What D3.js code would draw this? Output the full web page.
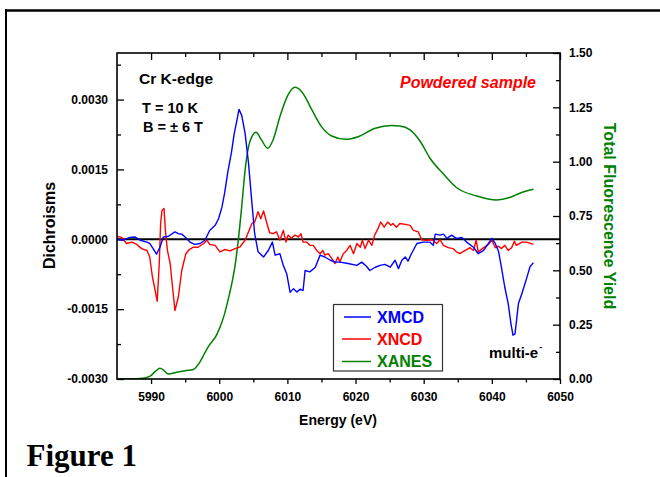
<!DOCTYPE html>
<html><head><meta charset="utf-8">
<script src="https://cdn.jsdelivr.net/npm/d3@7"></script>
<style>
html,body{margin:0;padding:0;background:#fff;}
svg{display:block;}
text{font-family:"Liberation Sans",Arial,sans-serif;font-weight:bold;}
</style></head>
<body>
<svg id="chart" width="660" height="477"></svg>
<script>
// ---- Data ----
const xTicks = [5990, 6000, 6010, 6020, 6030, 6040, 6050];
const xMinorTicks = [5995, 6005, 6015, 6025, 6035, 6045];
const yLeftTicks = [-0.003, -0.0015, 0, 0.0015, 0.003];
const yLeftMinorTicks = [-0.00225, -0.00075, 0.00075, 0.00225, 0.00375];
const yRightTicks = [0, 0.25, 0.5, 0.75, 1.0, 1.25, 1.5];
const yRightMinorTicks = [0.125, 0.375, 0.625, 0.875, 1.125, 1.375];
const seriesNames = ["XMCD", "XNCD", "XANES"];
const seriesColors = ["#0000ff", "#ff0000", "#008000"];

const xmcdE = [5985.0,5985.9,5986.9,5987.6,5988.4,5989.4,5989.8,5990.3,5990.8,5991.3,5991.8,5992.5,5993.5,5994.0,5994.5,5995.0,5995.7,5996.4,5997.2,5997.9,5998.6,5999.4,5999.9,6000.4,6000.8,6001.3,6001.8,6002.2,6002.6,6002.9,6003.3,6003.8,6004.3,6004.8,6005.2,6005.7,6006.5,6007.2,6007.8,6008.2,6008.9,6009.4,6009.9,6010.4,6010.9,6011.4,6011.9,6012.3,6012.6,6013.3,6014.1,6014.8,6015.5,6016.3,6017.0,6017.7,6018.9,6020.2,6020.9,6021.6,6022.1,6022.9,6023.6,6024.3,6025.1,6025.8,6026.3,6026.8,6027.3,6027.7,6028.2,6029.0,6029.9,6030.9,6031.4,6031.7,6032.4,6032.9,6033.4,6034.1,6034.8,6035.6,6036.3,6037.3,6038.0,6038.8,6039.5,6040.0,6040.5,6041.0,6041.4,6041.9,6042.4,6042.8,6043.1,6043.4,6043.9,6044.4,6045.1,6045.6,6046.1];
const xmcdD = [0,-0.00002,0.00004,0.00005,-0.00002,-0.00006,-0.00009,-0.0002,-0.00032,-0.00017,0.00005,0.00006,0.00016,0.00012,0.00011,0.00005,-0.00006,-0.00011,-0.00009,-0.00002,0.00019,0.0003,0.00044,0.00069,0.001,0.00148,0.00187,0.00227,0.00256,0.00279,0.00266,0.00227,0.00163,0.00077,0.00012,-0.00027,-0.00038,-0.00024,-0.00006,-0.00034,-0.00031,-0.00056,-0.00074,-0.00114,-0.00106,-0.00113,-0.00107,-0.0011,-0.00067,-0.0007,-0.0006,-0.00034,-0.00038,-0.00045,-0.00049,-0.00049,-0.00052,-0.00056,-0.00049,-0.00058,-0.00067,-0.0006,-0.00056,-0.00054,-0.0006,-0.00045,-0.00063,-0.00045,-0.00038,-0.00047,-0.00031,-0.00009,-0.00006,-0.00006,-0.00013,0.00011,0.00009,0.00011,0.00002,0.00009,0.00002,0.00004,-0.00006,-0.00017,-0.00031,-0.00024,-0.00009,0.00002,-0.00009,-0.00027,-0.0006,-0.00103,-0.00138,-0.00181,-0.00206,-0.00203,-0.00138,-0.00117,-0.00084,-0.00059,-0.0005];

const xncdE = [5985.0,5985.7,5986.4,5987.2,5987.9,5988.6,5989.4,5989.8,5990.2,5990.6,5990.9,5991.2,5991.4,5991.6,5991.9,5992.1,5992.4,5992.8,5993.2,5993.5,5994.0,5994.5,5995.1,5995.6,5996.2,5996.9,5997.7,5998.2,5998.6,5999.4,6000.1,6000.8,6001.6,6002.3,6003.0,6003.8,6004.3,6004.8,6005.2,6005.7,6006.1,6006.5,6007.0,6007.4,6007.9,6008.4,6008.9,6009.4,6009.8,6010.1,6010.6,6011.1,6011.6,6012.0,6012.3,6012.8,6013.3,6013.8,6014.3,6014.8,6015.2,6015.5,6016.0,6016.5,6017.0,6017.4,6017.7,6018.2,6018.7,6019.2,6019.7,6020.2,6020.7,6021.0,6021.4,6021.9,6022.4,6022.8,6023.3,6023.7,6024.2,6024.7,6025.2,6025.5,6026.0,6026.5,6027.3,6028.0,6028.5,6029.2,6029.7,6030.4,6031.2,6031.9,6032.4,6032.9,6033.6,6034.3,6034.8,6035.3,6036.1,6036.8,6037.3,6037.7,6038.0,6038.8,6039.5,6040.0,6040.5,6041.0,6041.4,6041.9,6042.4,6042.9,6043.3,6043.6,6044.4,6045.1,6046.1];
const xncdD = [0.00006,0.00004,-0.00009,-0.00006,-0.00011,-0.0002,-0.00024,-0.00038,-0.00081,-0.0011,-0.00133,-0.00052,0.00034,0.00062,0.00066,0.00019,-0.00024,-0.00052,-0.0011,-0.00153,-0.00124,-0.00067,-0.00031,-0.00022,-0.00017,-0.00017,-0.00009,-0.00002,-0.00011,-0.00013,-0.00027,-0.00022,-0.00025,-0.0002,-0.00017,-0.00002,0.00016,0.00034,0.00037,0.00059,0.00044,0.00061,0.00034,0.00014,0.00012,0.00016,-0.00002,0.00019,-0.00006,0.00009,0.00002,0.00009,0.00005,0.00012,-0.00006,-0.00006,-0.00013,-0.00013,-0.00024,-0.00031,-0.00024,-0.00034,-0.00031,-0.00041,-0.00052,-0.00038,-0.00049,-0.00031,-0.00024,-0.00013,-0.00031,-0.00009,-0.00017,-0.00002,-0.0002,-0.00002,-0.00013,0.00009,0.00023,0.00037,0.00026,0.00037,0.0003,0.00034,0.00026,0.00034,0.00032,0.0003,0.00019,0.00016,-0.00001,-0.00002,-0.00001,-0.00009,-0.00001,-0.00013,-0.00018,-0.0002,-0.00027,-0.00031,-0.00024,-0.00018,-0.00024,-0.00002,-0.00027,-0.00018,-0.00011,-0.00002,-0.00018,-0.00015,-0.0002,-0.00013,-0.00024,-0.00018,-0.00004,-0.00013,-0.00006,-0.00006,-0.00011];

const xanesE = [5985.0,5988.4,5989.8,5990.7,5991.3,5991.9,5992.5,5993.8,5995.0,5996.2,5997.2,5997.8,5998.4,5999.6,6000.4,6000.8,6001.3,6001.8,6002.3,6002.8,6003.3,6003.8,6004.3,6004.8,6005.4,6006.2,6007.1,6007.9,6008.9,6010.1,6011.1,6012.1,6013.6,6015.0,6016.5,6018.5,6020.4,6022.9,6025.3,6026.5,6028.0,6029.5,6030.9,6032.9,6034.8,6037.8,6040.7,6042.7,6044.1,6046.1];
const xanesY = [0.000,0.002,0.012,0.037,0.049,0.039,0.023,0.031,0.038,0.044,0.080,0.115,0.149,0.202,0.262,0.302,0.364,0.433,0.517,0.640,0.793,0.962,1.069,1.115,1.135,1.100,1.062,1.100,1.207,1.307,1.342,1.322,1.238,1.161,1.118,1.103,1.115,1.154,1.166,1.164,1.146,1.093,1.017,0.943,0.881,0.842,0.824,0.836,0.855,0.873];

// ---- Chart ----
const svg = d3.select("#chart");
const W = 660, H = 477;
const L = 117, R = 560, T = 53, B = 379;

const x = d3.scaleLinear().domain([5985, 6050]).range([L, R]);
const yL = d3.scaleLinear().domain([-0.003, 0.004]).range([B, T]);
const yR = d3.scaleLinear().domain([0, 1.5]).range([B, T]);

// outer page frame (partial)
svg.append("line").attr("x1", 6).attr("x2", W).attr("y1", 10.5).attr("y2", 10.5)
  .attr("stroke", "#000").attr("stroke-width", 2.5);
svg.append("line").attr("x1", 6).attr("x2", 6).attr("y1", 9).attr("y2", H)
  .attr("stroke", "#000").attr("stroke-width", 2);

const fmtL = v => d3.format(".4f")(v).replace("\u2212", "-");
const fmtR = v => d3.format(".2f")(v);

function styleAxis(g) {
  g.select(".domain").remove();
  g.selectAll(".tick line").attr("stroke", "#000").attr("stroke-width", 1.3);
  g.selectAll(".tick text").attr("fill", "#000").style("font-size", "12px")
    .style("font-family", '"Liberation Sans", Arial, sans-serif').style("font-weight", "bold");
}

// left axis
svg.append("g").attr("transform", `translate(${L},0)`)
  .call(d3.axisLeft(yL).tickValues(yLeftTicks).tickSize(-7).tickPadding(9).tickFormat(fmtL)).call(styleAxis);
svg.append("g").attr("transform", `translate(${L},0)`)
  .call(d3.axisLeft(yL).tickValues(yLeftMinorTicks).tickSize(-4).tickFormat("")).call(styleAxis);
// right axis
svg.append("g").attr("transform", `translate(${R},0)`)
  .call(d3.axisRight(yR).tickValues(yRightTicks).tickSize(-7).tickPadding(9).tickFormat(fmtR)).call(styleAxis);
svg.append("g").attr("transform", `translate(${R},0)`)
  .call(d3.axisRight(yR).tickValues(yRightMinorTicks).tickSize(-4).tickFormat("")).call(styleAxis);
// bottom axis
svg.append("g").attr("transform", `translate(0,${B})`)
  .call(d3.axisBottom(x).tickValues(xTicks).tickSize(5).tickPadding(8).tickFormat(d3.format("d"))).call(styleAxis);
svg.append("g").attr("transform", `translate(0,${B})`)
  .call(d3.axisBottom(x).tickValues(xMinorTicks).tickSize(3.5).tickFormat("")).call(styleAxis);
// top axis
svg.append("g").attr("transform", `translate(0,${T})`)
  .call(d3.axisTop(x).tickValues(xTicks).tickSize(-7).tickFormat("")).call(styleAxis);
svg.append("g").attr("transform", `translate(0,${T})`)
  .call(d3.axisTop(x).tickValues(xMinorTicks).tickSize(-4).tickFormat("")).call(styleAxis);

// clip
svg.append("clipPath").attr("id", "plotclip").append("rect")
  .attr("x", L).attr("y", T).attr("width", R - L).attr("height", B - T);
const plot = svg.append("g").attr("clip-path", "url(#plotclip)");

// zero line
plot.append("line").attr("x1", L).attr("x2", R).attr("y1", yL(0)).attr("y2", yL(0))
  .attr("stroke", "#000").attr("stroke-width", 2);

const lineL = d3.line().x(d => x(d[0])).y(d => yL(d[1]));
const lineR = d3.line().x(d => x(d[0])).y(d => yR(d[1])).curve(d3.curveMonotoneX);

plot.append("path").datum(xanesE.map((e, i) => [e, xanesY[i]]))
  .attr("d", lineR).attr("fill", "none").attr("stroke", seriesColors[2]).attr("stroke-width", 1.5);
plot.append("path").datum(xncdE.map((e, i) => [e, xncdD[i]]))
  .attr("d", lineL).attr("fill", "none").attr("stroke", seriesColors[1]).attr("stroke-width", 1.4)
  .attr("stroke-linejoin", "round");
plot.append("path").datum(xmcdE.map((e, i) => [e, xmcdD[i]]))
  .attr("d", lineL).attr("fill", "none").attr("stroke", seriesColors[0]).attr("stroke-width", 1.4)
  .attr("stroke-linejoin", "round");

// plot frame
svg.append("rect").attr("x", L).attr("y", T).attr("width", R - L).attr("height", B - T)
  .attr("fill", "none").attr("stroke", "#000").attr("stroke-width", 1.6);

// annotations
svg.append("text").attr("x", 139).attr("y", 84).style("font-size", "15.5px").text("Cr K-edge");
svg.append("text").attr("x", 142).attr("y", 113).style("font-size", "14.5px").text("T = 10 K");
svg.append("text").attr("x", 143).attr("y", 132).style("font-size", "14.5px").text("B = \u00b1 6 T");
svg.append("text").attr("x", 536).attr("y", 88).attr("text-anchor", "end")
  .style("font-size", "16px").style("font-style", "italic").attr("fill", "#ff0000").text("Powdered sample");
const me = svg.append("text").attr("x", 489).attr("y", 358).style("font-size", "15px");
me.append("tspan").text("multi-e");
me.append("tspan").attr("dy", -8).attr("dx", 1).style("font-size", "9px").text("-");

// axis titles
svg.append("text").attr("transform", "translate(55,225.5) rotate(-90)").attr("text-anchor", "middle")
  .style("font-size", "16px").text("Dichroisms");
svg.append("text").attr("transform", "translate(604,216) rotate(90)").attr("text-anchor", "middle")
  .style("font-size", "16px").attr("fill", "#008000").text("Total Fluorescence Yield");
svg.append("text").attr("x", 338).attr("y", 425).attr("text-anchor", "middle")
  .style("font-size", "14px").text("Energy (eV)");

svg.append("text").attr("x", 26.5).attr("y", 465.5)
  .style("font-family", '"Liberation Serif","Times New Roman",serif').style("font-size", "31px").text("Figure 1");

// legend
const lg = svg.append("g");
lg.append("rect").attr("x", 333.5).attr("y", 304.5).attr("width", 109).attr("height", 66.5)
  .attr("fill", "#fff").attr("stroke", "#333").attr("stroke-width", 1.2);
const ly = [317, 339, 361.5];
seriesNames.forEach((n, i) => {
  lg.append("line").attr("x1", i === 0 ? 344 : 342).attr("x2", 371).attr("y1", ly[i]).attr("y2", ly[i])
    .attr("stroke", seriesColors[i]).attr("stroke-width", 1.5);
  lg.append("text").attr("x", 377).attr("y", ly[i] + 5.5).style("font-size", "16px")
    .attr("fill", seriesColors[i]).text(n);
});
</script>
</body></html>
